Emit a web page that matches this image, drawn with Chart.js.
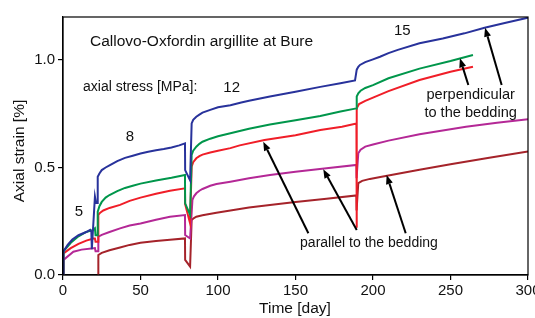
<!DOCTYPE html>
<html>
<head>
<meta charset="utf-8">
<script src="https://cdn.jsdelivr.net/npm/chart.js@4.4.1/dist/chart.umd.min.js"></script>
<style>
  html, body { margin: 0; padding: 0; background: #fff; }
</style>
</head>
<body>
<canvas id="chart" width="535" height="318"></canvas>
<script>
// perpendicular to the bedding
const blueDays = [0, 0.3, 3, 6, 10, 15, 17.5, 18.3, 18.6, 20.6, 21.3, 22.3, 22.4, 23.5, 25, 27.5, 30, 35, 40, 45, 50, 55, 60, 65, 70, 75, 78.7, 78.8, 82, 83, 84, 86, 88, 90, 95, 100, 108, 115, 120, 133.5, 150, 166, 179, 188.4, 189.5, 190.5, 191.6, 195, 200, 204.5, 210, 216, 230, 245, 259, 272, 285, 300];
const blueStrain = [0, 0.11, 0.14, 0.165, 0.185, 0.2, 0.21, 0.2, 0.12, 0.364, 0.335, 0.335, 0.457, 0.472, 0.488, 0.5, 0.51, 0.53, 0.545, 0.555, 0.565, 0.573, 0.58, 0.586, 0.593, 0.603, 0.612, 0.488, 0.44, 0.705, 0.722, 0.736, 0.746, 0.755, 0.768, 0.78, 0.79, 0.802, 0.81, 0.83, 0.852, 0.875, 0.892, 0.905, 0.955, 0.968, 0.977, 0.99, 1.003, 1.015, 1.032, 1.047, 1.078, 1.1, 1.124, 1.15, 1.172, 1.197];

const greenDays = [0, 0.3, 5, 10, 15, 19.5, 20.6, 21, 22.3, 22.4, 23.5, 25, 27.5, 30, 35, 40, 45, 50, 60, 70, 78.7, 78.8, 82, 83, 84, 86, 88, 90, 95, 100, 108, 120, 133.5, 150, 166, 179, 189.3, 189.5, 190.5, 192, 195, 200, 210, 230, 250, 264.5];
const greenStrain = [0, 0.11, 0.15, 0.18, 0.2, 0.21, 0.217, 0.185, 0.185, 0.295, 0.32, 0.34, 0.36, 0.372, 0.39, 0.405, 0.415, 0.425, 0.44, 0.452, 0.465, 0.333, 0.28, 0.558, 0.578, 0.597, 0.61, 0.62, 0.634, 0.645, 0.659, 0.68, 0.7, 0.72, 0.74, 0.76, 0.775, 0.83, 0.845, 0.857, 0.87, 0.883, 0.915, 0.96, 0.995, 1.023];

const redDays = [0, 0.3, 5, 10, 15, 19.6, 20.6, 21, 22.6, 22.8, 24, 26, 30, 36.8, 43, 50, 60, 69, 78.7, 78.8, 82, 83, 84, 86, 88, 90, 95, 100, 108, 114, 130, 150, 166, 180, 189.3, 189.4, 189.6, 191, 195, 200, 210, 230, 250, 264.5];
const redStrain = [0, 0.1, 0.125, 0.145, 0.16, 0.17, 0.17, 0.155, 0.155, 0.28, 0.29, 0.3, 0.312, 0.326, 0.345, 0.36, 0.378, 0.392, 0.403, 0.33, 0.24, 0.504, 0.525, 0.543, 0.553, 0.56, 0.57, 0.578, 0.59, 0.603, 0.628, 0.65, 0.674, 0.69, 0.705, 0.22, 0.776, 0.795, 0.81, 0.825, 0.855, 0.907, 0.945, 0.969];

// parallel to the bedding
const magentaDays = [0, 0.3, 6.7, 12, 19.6, 20.6, 21, 22.6, 22.8, 25, 30, 36.8, 43, 50, 60, 69, 78.7, 78.8, 82, 83.5, 84.5, 86, 88, 90, 95, 99, 108, 120, 133.5, 150, 170, 189.3, 189.4, 190.5, 192, 195, 200, 210, 230, 260, 280, 300];
const magentaStrain = [0, 0.07, 0.108, 0.118, 0.124, 0.125, 0.11, 0.11, 0.178, 0.187, 0.2, 0.217, 0.23, 0.24, 0.257, 0.271, 0.279, 0.186, 0.17, 0.349, 0.366, 0.38, 0.392, 0.4, 0.415, 0.423, 0.434, 0.45, 0.465, 0.48, 0.497, 0.512, 0.45, 0.566, 0.583, 0.597, 0.607, 0.625, 0.655, 0.69, 0.708, 0.724];

const darkRedDays = [22.7, 22.8, 25, 30, 36.8, 43, 50, 60, 69, 78.7, 78.8, 82, 83, 84.5, 86, 90, 99, 108, 120, 133.5, 150, 170, 189.3, 189.4, 190.5, 193, 198, 205.6, 230, 250, 275, 300];
const darkRedStrain = [0, 0.093, 0.103, 0.115, 0.128, 0.14, 0.15, 0.158, 0.164, 0.17, 0.07, 0.039, 0.256, 0.265, 0.271, 0.278, 0.29, 0.3, 0.314, 0.326, 0.34, 0.355, 0.37, 0.3, 0.427, 0.438, 0.447, 0.457, 0.49, 0.515, 0.545, 0.574];

const xTicks = [0, 50, 100, 150, 200, 250, 300];
const yTicks = [0, 0.5, 1.0];

// text labels placed in data units: [text, day, strain, size, align]
const notes = [
  ["Callovo-Oxfordin argillite at Bure", 17.4, 1.084, 15.5, "left"],
  ["axial stress [MPa]:", 12.9, 0.872, 14, "left"],
  ["12", 108.8, 0.872, 15, "center"],
  ["8", 43.2, 0.642, 15, "center"],
  ["5", 10.3, 0.293, 15, "center"],
  ["15", 218.9, 1.135, 15, "center"],
  ["perpendicular", 263, 0.837, 14.6, "center"],
  ["to the bedding", 263, 0.753, 14.6, "center"],
  ["parallel to the bedding", 197.4, 0.149, 14, "center"]
];
// arrows: [tailDay, tailStrain, tipDay, tipStrain]
const arrows = [
  [158.3, 0.194, 129.2, 0.62],
  [189.5, 0.209, 167.9, 0.492],
  [221.1, 0.194, 208.8, 0.465],
  [261.5, 0.884, 256.1, 1.008],
  [283.0, 0.884, 272.3, 1.15]
];

function pairs(xs, ys) {
  return xs.map((x, i) => ({ x: x, y: ys[i] }));
}

function series(label, xs, ys, color) {
  return {
    label: label,
    data: pairs(xs, ys),
    borderColor: color,
    backgroundColor: color,
    borderWidth: 2,
    pointRadius: 0,
    showLine: true,
    tension: 0,
  };
}

const FONT = "'Liberation Sans', Arial, sans-serif";

const decor = {
  id: "decor",
  afterDatasetsDraw(chart) {
    const ctx = chart.ctx;
    const xs = chart.scales.x;
    const ys = chart.scales.y;
    const a = chart.chartArea;
    ctx.save();
    // frame
    ctx.strokeStyle = "#000";
    ctx.lineWidth = 1.2;
    ctx.strokeRect(a.left, a.top, a.right - a.left, a.bottom - a.top);

    ctx.fillStyle = "#111";
    ctx.textBaseline = "middle";
    notes.forEach(([t, d, s, size, align]) => {
      ctx.font = size + "px " + FONT;
      ctx.textAlign = align;
      ctx.fillText(t, xs.getPixelForValue(d), ys.getPixelForValue(s));
    });

    ctx.lineWidth = 2;
    ctx.strokeStyle = "#000";
    ctx.fillStyle = "#000";
    arrows.forEach(([d0, s0, d1, s1]) => {
      const x0 = xs.getPixelForValue(d0), y0 = ys.getPixelForValue(s0);
      const x1 = xs.getPixelForValue(d1), y1 = ys.getPixelForValue(s1);
      const ang = Math.atan2(y1 - y0, x1 - x0);
      const len = 9, half = 3.5;
      const bx = x1 - len * Math.cos(ang), by = y1 - len * Math.sin(ang);
      ctx.beginPath();
      ctx.moveTo(x0, y0);
      ctx.lineTo(bx, by);
      ctx.stroke();
      ctx.beginPath();
      ctx.moveTo(x1, y1);
      ctx.lineTo(bx + half * Math.sin(ang), by - half * Math.cos(ang));
      ctx.lineTo(bx - half * Math.sin(ang), by + half * Math.cos(ang));
      ctx.closePath();
      ctx.fill();
    });

    // axis titles
    ctx.fillStyle = "#111";
    ctx.font = "15.5px " + FONT;
    ctx.textAlign = "center";
    ctx.fillText("Time [day]", 295, 309);
    ctx.translate(20, 151);
    ctx.rotate(-Math.PI / 2);
    ctx.fillText("Axial strain [%]", 0, 0);
    ctx.restore();
  }
};

new Chart(document.getElementById("chart"), {
  type: "scatter",
  data: {
    datasets: [
      series("blue", blueDays, blueStrain, "rgb(40, 50, 155)"),
      series("green", greenDays, greenStrain, "rgb(0, 150, 75)"),
      series("red", redDays, redStrain, "rgb(240, 30, 40)"),
      series("magenta", magentaDays, magentaStrain, "rgb(180, 40, 150)"),
      series("darkred", darkRedDays, darkRedStrain, "rgb(165, 35, 42)"),
    ],
  },
  options: {
    responsive: false,
    animation: false,
    layout: { padding: { top: 17, right: 7, left: 0, bottom: 0 } },
    plugins: {
      legend: { display: false },
      tooltip: { enabled: false },
    },
    scales: {
      x: {
        type: "linear",
        min: 0,
        max: 300,
        afterBuildTicks: (s) => { s.ticks = xTicks.map((v) => ({ value: v })); },
        afterFit: (s) => { s.height = 43; s.paddingLeft = 0; s.paddingRight = 0; },
        grid: { drawOnChartArea: false, tickLength: 5, color: "#000", lineWidth: 1.2 },
        border: { color: "#000", width: 1.2 },
        ticks: {
          color: "#111",
          padding: 2,
          maxRotation: 0,
          font: { family: FONT, size: 15 },
        },
      },
      y: {
        type: "linear",
        min: 0,
        max: 1.2,
        afterBuildTicks: (s) => { s.ticks = yTicks.map((v) => ({ value: v })); },
        afterFit: (s) => { s.width = 63; s.paddingTop = 0; s.paddingBottom = 0; },
        grid: { drawOnChartArea: false, tickLength: 5, color: "#000", lineWidth: 1.2 },
        border: { color: "#000", width: 1.2 },
        ticks: {
          color: "#111",
          padding: 3,
          font: { family: FONT, size: 15 },
          callback: (v) => v.toFixed(1),
        },
      },
    },
  },
  plugins: [decor],
});
</script>
</body>
</html>
